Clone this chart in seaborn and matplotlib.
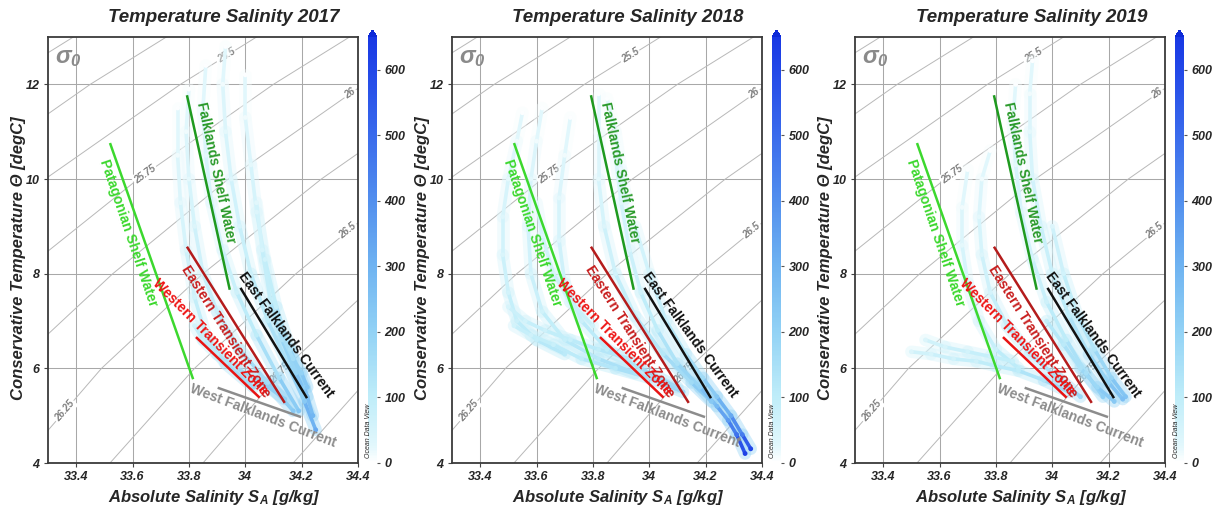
import numpy as np
import pandas as pd
import matplotlib
matplotlib.use("Agg")
import matplotlib.pyplot as plt
import seaborn as sns
from matplotlib.colors import LinearSegmentedColormap, Normalize
from matplotlib.collections import LineCollection
from matplotlib.cm import ScalarMappable

# ---------------- data ----------------
years = ["2017", "2018", "2019"]

# CTD profiles: salinity, temperature, depth (m)
sal_2017 = [
    [33.93, 33.92, 33.93, 33.95, 33.98, 34.02, 34.08, 34.15, 34.21, 34.25],
    [33.86, 33.85, 33.86, 33.88, 33.92, 33.97, 34.04, 34.12, 34.19],
    [33.80, 33.79, 33.80, 33.82, 33.85, 33.90, 33.98, 34.08, 34.17],
    [33.76, 33.76, 33.77, 33.79, 33.82, 33.86, 33.93, 34.03],
    [34.00, 34.00, 34.02, 34.04, 34.07, 34.11, 34.16, 34.21, 34.24],
    [34.04, 34.06, 34.09, 34.13, 34.18, 34.22],
    [33.82, 33.85, 33.90, 33.97, 34.06, 34.14],
    [34.12, 34.17, 34.20, 34.22],
]
temp_2017 = [
    [12.8, 12.0, 11.0, 10.0, 9.0, 8.0, 7.0, 6.1, 5.3, 4.7],
    [12.4, 11.5, 10.5, 9.5, 8.5, 7.6, 6.7, 5.8, 5.1],
    [11.9, 11.0, 10.0, 9.0, 8.0, 7.2, 6.4, 5.7, 5.1],
    [11.5, 10.5, 9.5, 8.5, 7.5, 6.7, 6.1, 5.6],
    [12.2, 11.3, 10.3, 9.3, 8.3, 7.3, 6.4, 5.6, 5.0],
    [9.5, 8.5, 7.4, 6.6, 5.9, 5.4],
    [6.9, 6.6, 6.3, 6.0, 5.7, 5.35],
    [6.8, 6.2, 5.9, 5.6],
]
depth_2017 = [
    [5, 15, 25, 35, 50, 70, 100, 150, 230, 330],
    [5, 15, 25, 35, 50, 70, 100, 160, 240],
    [5, 15, 25, 40, 55, 75, 110, 160, 230],
    [5, 15, 25, 40, 60, 85, 120, 170],
    [5, 15, 25, 40, 60, 90, 140, 210, 290],
    [30, 50, 90, 140, 200, 260],
    [60, 80, 100, 130, 170, 210],
    [110, 160, 200, 240],
]

sal_2018 = [
    [33.55, 33.53, 33.50, 33.48, 33.48, 33.50, 33.53, 33.60, 33.70],
    [33.62, 33.60, 33.58, 33.57, 33.58, 33.62, 33.70, 33.82, 33.95],
    [33.72, 33.70, 33.68, 33.68, 33.70, 33.76, 33.85, 33.97, 34.10],
    [33.82, 33.82, 33.82, 33.84, 33.88, 33.95, 34.05, 34.15, 34.22],
    [33.88, 33.90, 33.93, 33.97, 34.03, 34.10, 34.18, 34.24, 34.28, 34.31, 34.34],
    [33.95, 34.00, 34.06, 34.13, 34.19, 34.24, 34.29, 34.33, 34.36],
    [33.50, 33.56, 33.63, 33.72, 33.82, 33.93],
    [33.52, 33.58, 33.66, 33.76, 33.88, 34.00, 34.12],
    [33.60, 33.62, 33.66, 33.72, 33.80],
    [33.85, 33.88, 33.90, 33.92],
]
temp_2018 = [
    [11.4, 10.8, 10.0, 9.2, 8.4, 7.6, 7.0, 6.6, 6.3],
    [11.5, 10.8, 10.0, 9.0, 8.0, 7.2, 6.6, 6.2, 5.9],
    [11.3, 10.5, 9.6, 8.7, 7.8, 7.0, 6.4, 6.0, 5.6],
    [11.8, 11.0, 10.0, 9.0, 8.0, 7.1, 6.3, 5.7, 5.3],
    [10.5, 9.5, 8.5, 7.6, 6.8, 6.1, 5.6, 5.2, 4.9, 4.6, 4.2],
    [9.0, 8.0, 7.0, 6.3, 5.8, 5.4, 5.0, 4.6, 4.3],
    [7.3, 7.0, 6.8, 6.6, 6.4, 6.2],
    [6.9, 6.7, 6.5, 6.2, 6.0, 5.8, 5.5],
    [9.5, 8.8, 8.0, 7.4, 6.9],
    [11.7, 11.0, 10.2, 9.5],
]
depth_2018 = [
    [5, 15, 25, 35, 45, 60, 75, 90, 110],
    [5, 15, 25, 35, 50, 65, 85, 110, 140],
    [5, 15, 25, 40, 55, 75, 100, 130, 170],
    [5, 15, 25, 40, 60, 85, 120, 170, 230],
    [20, 30, 45, 65, 95, 140, 200, 280, 370, 480, 620],
    [30, 50, 80, 120, 170, 240, 330, 450, 600],
    [50, 60, 70, 80, 95, 115],
    [60, 70, 80, 95, 115, 140, 180],
    [25, 35, 45, 55, 65],
    [5, 15, 20, 25],
]

sal_2019 = [
    [33.93, 33.92, 33.92, 33.93, 33.96, 34.00, 34.06, 34.13, 34.20, 34.25],
    [33.87, 33.86, 33.87, 33.89, 33.93, 33.98, 34.05, 34.12, 34.18],
    [33.78, 33.75, 33.74, 33.75, 33.78, 33.84, 33.92, 34.02, 34.10],
    [33.70, 33.68, 33.68, 33.70, 33.74, 33.80, 33.88],
    [33.50, 33.57, 33.65, 33.73, 33.80, 33.88, 33.97, 34.06],
    [33.55, 33.62, 33.70, 33.78, 33.86],
    [34.00, 34.04, 34.09, 34.15, 34.21, 34.26],
    [33.98, 34.04, 34.10, 34.16, 34.22],
]
temp_2019 = [
    [12.5, 11.8, 11.0, 10.0, 9.0, 8.0, 7.1, 6.3, 5.7, 5.35],
    [12.0, 11.2, 10.3, 9.3, 8.3, 7.4, 6.6, 5.9, 5.4],
    [10.6, 10.0, 9.2, 8.4, 7.6, 6.9, 6.3, 5.8, 5.4],
    [10.2, 9.4, 8.6, 7.8, 7.0, 6.4, 6.0],
    [6.35, 6.3, 6.2, 6.15, 6.05, 5.95, 5.75, 5.5],
    [6.6, 6.45, 6.35, 6.25, 6.15],
    [9.0, 8.0, 7.1, 6.4, 5.8, 5.4],
    [7.0, 6.5, 6.0, 5.6, 5.3],
]
depth_2019 = [
    [5, 15, 25, 35, 50, 70, 100, 140, 200, 260],
    [5, 15, 25, 35, 50, 70, 100, 150, 210],
    [5, 15, 25, 40, 55, 75, 100, 140, 180],
    [5, 15, 25, 40, 55, 75, 95],
    [40, 50, 60, 70, 85, 100, 130, 170],
    [40, 50, 60, 70, 80],
    [40, 60, 90, 130, 190, 250],
    [90, 110, 140, 180, 230],
]

profiles = {
    "2017": (sal_2017, temp_2017, depth_2017),
    "2018": (sal_2018, temp_2018, depth_2018),
    "2019": (sal_2019, temp_2019, depth_2019),
}

# water mass lines (start / end)
wm_names = ["Patagonian Shelf Water", "Falklands Shelf Water", "Eastern Transient Zone",
            "Western Transient Zone", "East Falklands Current", "West Falklands Current"]
wm_sal = [[33.52, 33.815], [33.793, 33.945], [33.793, 34.14],
          [33.825, 34.051], [33.983, 34.219], [33.902, 34.198]]
wm_temp = [[10.76, 5.77], [11.77, 7.66], [8.57, 5.27],
           [6.66, 5.38], [7.70, 5.37], [5.59, 4.97]]
wm_label_sal = [33.587, 33.896, 33.932, 33.875, 34.146, 34.063]
wm_label_temp = [8.87, 10.14, 6.77, 6.67, 6.70, 5.00]

# sigma-0 isopycnals (salinity at given temperatures)
iso_temp = [4, 6, 8, 10, 12, 14]
sigma_levels = [25.0, 25.25, 25.5, 25.75, 26.0, 26.25, 26.5, 26.75, 27.0]
iso_sal = [
    [31.58, 31.87, 32.23, 32.65, 33.12, 33.66],
    [31.90, 32.20, 32.55, 32.97, 33.45, 33.99],
    [32.23, 32.52, 32.88, 33.29, 33.77, 34.31],
    [32.55, 32.84, 33.20, 33.62, 34.10, 34.64],
    [32.87, 33.17, 33.53, 33.94, 34.42, 34.96],
    [33.20, 33.49, 33.85, 34.27, 34.75, 35.29],
    [33.52, 33.82, 34.18, 34.59, 35.07, 35.61],
    [33.85, 34.14, 34.50, 34.92, 35.40, 35.94],
    [34.17, 34.47, 34.82, 35.24, 35.72, 36.26],
]
iso_label_text = ["25.5", "25.75", "26", "26.25", "26.5", "26.75"]
iso_label_level = [2, 3, 4, 5, 6, 7]
iso_label_temp = [12.6, 10.1, 11.8, 5.1, 8.9, 5.9]

xticks = [33.4, 33.6, 33.8, 34.0, 34.2, 34.4]
xtick_labels = ["33.4", "33.6", "33.8", "34", "34.2", "34.4"]
yticks = [4, 6, 8, 10, 12]
cbar_ticks = [0, 100, 200, 300, 400, 500, 600]

# ---------------- style ----------------
sns.set_theme(style="white")
plt.rcParams["font.family"] = ["Liberation Sans", "DejaVu Sans"]
plt.rcParams["font.weight"] = "bold"
plt.rcParams["font.style"] = "italic"
plt.rcParams["axes.labelweight"] = "bold"
plt.rcParams["mathtext.fontset"] = "custom"
plt.rcParams["mathtext.it"] = "Liberation Sans:italic:bold"
plt.rcParams["mathtext.rm"] = "Liberation Sans:italic:bold"
plt.rcParams["mathtext.default"] = "it"

cmap = LinearSegmentedColormap.from_list("odv", [
    (0.0, "#ffffff"), (25 / 650, "#e2f7fc"), (100 / 650, "#bfedf9"),
    (200 / 650, "#92d2f5"), (300 / 650, "#6fb3f1"), (400 / 650, "#528fee"),
    (500 / 650, "#3a6bec"), (600 / 650, "#2248e8"), (1.0, "#1838e4")])
cmap.set_over("#0d2ad8")
cmap.set_under("white")
norm = Normalize(0, 650)

wm_line_colors = ["#3cd82e", "#1f9a1f", "#b41c1c", "#e81414", "#111111", "#8c8c8c"]
wm_text_colors = ["#3cd82e", "#2a9a2a", "#c81e1e", "#ee1414", "#111111", "#8c8c8c"]
wm_rot = [-71.3, -78.0, -57.4, -45.3, -53.8, -20.8]

W, H = 1216, 514
fig = plt.figure(figsize=(W / 100, H / 100), dpi=100)

ax_left = [48, 452, 855]
cb_left = [368, 772, 1175]
title_x = [224, 628, 1032]

for i, year in enumerate(years):
    ax = fig.add_axes([ax_left[i] / W, 1 - 463 / H, 310 / W, 426 / H])
    ax.set_xlim(33.3, 34.4)
    ax.set_ylim(4, 13)
    ax.set_xticks(xticks)
    ax.set_xticklabels(xtick_labels)
    ax.set_yticks(yticks)
    ax.grid(True, color="#a8a8a8", lw=0.75, zorder=0)
    ax.set_axisbelow(True)
    for sp in ax.spines.values():
        sp.set_color("#3a3a3a")
        sp.set_linewidth(1.3)
    ax.tick_params(labelsize=9, length=3, width=0.8, color="#444444", pad=3,
                   bottom=True, left=True)

    # isopycnals
    for s_arr in iso_sal:
        ax.plot(s_arr, iso_temp, color="#b8b8b8", lw=0.7, zorder=1)
    for txt, lev, t in zip(iso_label_text, iso_label_level, iso_label_temp):
        s_arr = iso_sal[lev]
        s0 = np.interp(t, iso_temp, s_arr)
        p1 = ax.transData.transform((np.interp(t - 0.3, iso_temp, s_arr), t - 0.3))
        p2 = ax.transData.transform((np.interp(t + 0.3, iso_temp, s_arr), t + 0.3))
        ang = np.degrees(np.arctan2(p2[1] - p1[1], p2[0] - p1[0]))
        ax.text(s0, t, txt, rotation=ang, rotation_mode="anchor", ha="center",
                va="center", fontsize=7, color="#808080", zorder=1.5,
                bbox=dict(boxstyle="square,pad=0.15", fc="white", ec="none"))

    # profiles: faint haze + thin streaks + points
    sal, temp, depth = profiles[year]
    rows = []
    for s, t, d in zip(sal, temp, depth):
        pts = np.column_stack([s, t])
        segs = np.stack([pts[:-1], pts[1:]], axis=1)
        mid = (np.array(d[:-1]) + np.array(d[1:])) / 2
        haze = LineCollection(segs, cmap=cmap, norm=norm, linewidths=9,
                              capstyle="round", alpha=0.4, zorder=2)
        haze.set_array(np.minimum(mid, 200))
        ax.add_collection(haze)
        streak = LineCollection(segs, cmap=cmap, norm=norm, linewidths=2.6,
                                capstyle="round", zorder=2.2)
        streak.set_array(mid + 20)
        ax.add_collection(streak)
        for a, b, c in zip(s, t, d):
            rows.append({"S": a, "T": b, "depth": c})
    df = pd.DataFrame(rows).sort_values("depth")
    sns.scatterplot(data=df, x="S", y="T", hue="depth", palette=cmap, hue_norm=norm,
                    s=12, linewidth=0, legend=False, ax=ax, zorder=3)

    # water masses
    for k, name in enumerate(wm_names):
        ax.plot(wm_sal[k], wm_temp[k], color=wm_line_colors[k], lw=1.8,
                solid_capstyle="butt", zorder=4)
        ax.text(wm_label_sal[k], wm_label_temp[k], name, rotation=wm_rot[k],
                rotation_mode="anchor", ha="center", va="center", fontsize=10,
                style="normal", weight="bold", color=wm_text_colors[k], zorder=5)

    ax.text(0.065, 0.953, r"$\sigma_0$", transform=ax.transAxes, fontsize=17,
            color="#8a8a8a", ha="center", va="center")

    ax.set_xlabel(r"Absolute Salinity S$_A$ [g/kg]", fontsize=12)
    ax.set_ylabel("Conservative Temperature Θ [degC]", fontsize=12)
    ax.xaxis.set_label_coords(0.535, -0.058)
    ax.yaxis.set_label_coords(-0.071, 0.48)

    fig.text(title_x[i] / W, 1 - 18 / H, f"Temperature Salinity {year}",
             fontsize=13.5, ha="center", va="center")

    cax = fig.add_axes([cb_left[i] / W, 1 - 470 / H, 9 / W, 440 / H])
    cbar = fig.colorbar(ScalarMappable(norm=norm, cmap=cmap), cax=cax, extend="both",
                        extendfrac=0.0165, ticks=cbar_ticks)
    cbar.outline.set_visible(False)
    cbar.ax.tick_params(labelsize=9, length=2.5, width=0.8, color="#555555", pad=3)
    fig.text((cb_left[i] + 1) / W, 1 - 431 / H, "Ocean Data View", rotation=90,
             fontsize=5, ha="center", va="center", weight="normal")

fig.savefig("out.png", dpi=100)
